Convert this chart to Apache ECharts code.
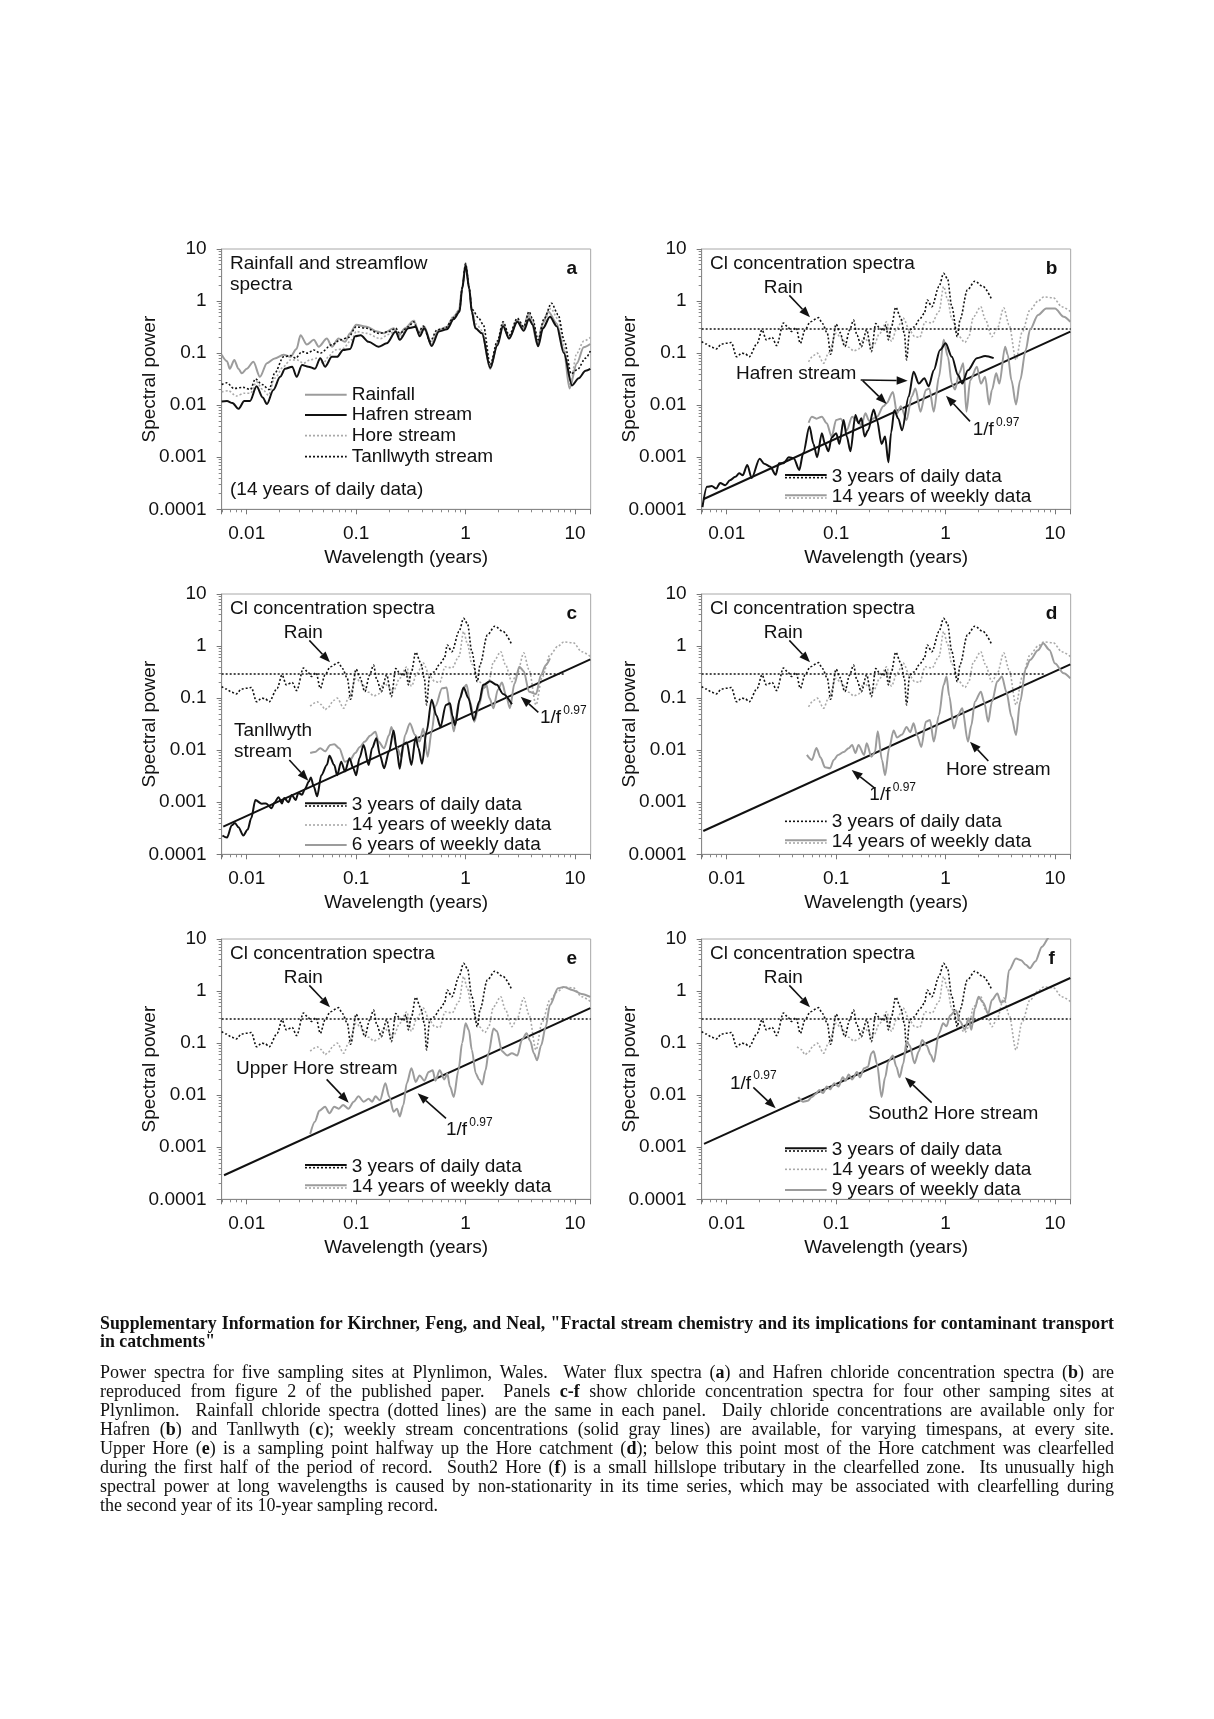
<!DOCTYPE html>
<html><head><meta charset="utf-8">
<script src="https://cdn.jsdelivr.net/npm/echarts@6/dist/echarts.min.js"></script>
<style>
html,body{margin:0;padding:0;background:#fff;}
#chart{position:absolute;left:0;top:0;width:1214px;height:1719px;}
.cap{position:absolute;left:100px;width:1014px;font-family:"Liberation Serif",serif;font-size:18px;color:#111;line-height:19px;height:19px;white-space:nowrap;}
.j{text-align:justify;text-align-last:justify;}
</style></head><body>
<div id="chart"></div>
<div class="cap j" style="top:1314px;font-weight:bold;font-size:17.8px;">Supplementary Information for Kirchner, Feng, and Neal, "Fractal stream chemistry and its implications for contaminant transport</div>
<div class="cap" style="top:1332px;font-weight:bold;font-size:17.8px;">in catchments"</div>
<div class="cap j" style="top:1363px;">Power spectra for five sampling sites at Plynlimon, Wales.&nbsp; Water flux spectra (<b>a</b>) and Hafren chloride concentration spectra (<b>b</b>) are</div>
<div class="cap j" style="top:1382px;">reproduced from figure 2 of the published paper.&nbsp; Panels <b>c-f</b> show chloride concentration spectra for four other samping sites at</div>
<div class="cap j" style="top:1401px;">Plynlimon.&nbsp; Rainfall chloride spectra (dotted lines) are the same in each panel.&nbsp; Daily chloride concentrations are available only for</div>
<div class="cap j" style="top:1420px;">Hafren (<b>b</b>) and Tanllwyth (<b>c</b>); weekly stream concentrations (solid gray lines) are available, for varying timespans, at every site.</div>
<div class="cap j" style="top:1439px;">Upper Hore (<b>e</b>) is a sampling point halfway up the Hore catchment (<b>d</b>); below this point most of the Hore catchment was clearfelled</div>
<div class="cap j" style="top:1458px;">during the first half of the period of record.&nbsp; South2 Hore (<b>f</b>) is a small hillslope tributary in the clearfelled zone.&nbsp; Its unusually high</div>
<div class="cap j" style="top:1477px;">spectral power at long wavelengths is caused by non-stationarity in its time series, which may be associated with clearfelling during</div>
<div class="cap" style="top:1496px;">the second year of its 10-year sampling record.</div>
<script>
// ---------------- axis ticks ----------------
const xTickValues = [0.01, 0.1, 1, 10];
const xTickLabels = ['0.01', '0.1', '1', '10'];
const yTickValues = [0.0001, 0.001, 0.01, 0.1, 1, 10];
const yTickLabels = ['0.0001', '0.001', '0.01', '0.1', '1', '10'];
const xMin = 0.0059, xMax = 13.9, yMin = 0.0001, yMax = 10;

// ---------------- panel a: rainfall and streamflow spectra ----------------
const rainfallA = [[0.0059,0.093],[0.0066,0.07],[0.0070,0.05],[0.0077,0.074],[0.0084,0.05],[0.0090,0.041],[0.010,0.05],[0.0115,0.068],[0.0132,0.035],[0.0153,0.064],[0.018,0.079],[0.0217,0.093],[0.025,0.085],[0.0285,0.12],[0.031,0.22],[0.0354,0.146],[0.041,0.18],[0.0455,0.133],[0.054,0.19],[0.060,0.133],[0.069,0.19],[0.079,0.165],[0.088,0.24],[0.1,0.35],[0.125,0.32],[0.155,0.26],[0.178,0.24],[0.22,0.30],[0.245,0.22],[0.28,0.3],[0.335,0.42],[0.38,0.24],[0.42,0.32],[0.49,0.145],[0.57,0.28],[0.675,0.32],[0.78,0.5],[0.87,0.67],[0.93,1.8],[1.0,5.4],[1.08,1.8],[1.14,0.65],[1.23,0.3],[1.41,0.24],[1.68,0.05],[1.95,0.15],[2.2,0.36],[2.5,0.19],[2.97,0.43],[3.4,0.3],[3.7,0.54],[4.0,0.4],[4.55,0.14],[5.0,0.35],[5.7,0.63],[6.8,0.37],[7.9,0.115],[8.9,0.021],[10.4,0.064],[12,0.13],[13.8,0.15]];
const hafrenA = [[0.0059,0.0118],[0.0066,0.012],[0.0074,0.011],[0.0084,0.0085],[0.0095,0.012],[0.0107,0.012],[0.0123,0.023],[0.014,0.014],[0.0153,0.0105],[0.0175,0.0196],[0.0202,0.035],[0.0224,0.05],[0.026,0.055],[0.0286,0.035],[0.032,0.059],[0.0366,0.055],[0.042,0.05],[0.047,0.08],[0.052,0.055],[0.06,0.085],[0.067,0.085],[0.076,0.115],[0.088,0.12],[0.098,0.21],[0.11,0.22],[0.13,0.165],[0.16,0.133],[0.19,0.154],[0.23,0.26],[0.25,0.18],[0.30,0.30],[0.35,0.32],[0.38,0.21],[0.42,0.30],[0.49,0.137],[0.57,0.26],[0.675,0.286],[0.78,0.45],[0.88,0.62],[0.93,1.7],[1.0,4.9],[1.08,1.7],[1.14,0.62],[1.23,0.3],[1.41,0.24],[1.68,0.052],[1.95,0.14],[2.2,0.33],[2.5,0.19],[2.97,0.4],[3.4,0.27],[3.8,0.45],[4.1,0.35],[4.6,0.135],[5.1,0.3],[5.9,0.5],[6.8,0.33],[7.9,0.1],[9.4,0.024],[10.8,0.033],[12.5,0.046],[13.8,0.05]];
const horeA = [[0.0059,0.018],[0.0068,0.019],[0.0080,0.015],[0.0095,0.017],[0.0108,0.017],[0.0123,0.028],[0.014,0.02],[0.0158,0.0155],[0.018,0.033],[0.0217,0.055],[0.025,0.074],[0.029,0.074],[0.033,0.064],[0.038,0.074],[0.044,0.08],[0.05,0.064],[0.057,0.09],[0.064,0.115],[0.075,0.12],[0.091,0.18],[0.1,0.26],[0.125,0.24],[0.166,0.19],[0.2,0.23],[0.23,0.28],[0.25,0.2],[0.3,0.32],[0.34,0.42],[0.37,0.25],[0.41,0.32],[0.48,0.16],[0.56,0.27],[0.66,0.31],[0.77,0.5],[0.88,0.65],[0.93,1.8],[1.0,5.2],[1.08,1.8],[1.14,0.65],[1.25,0.36],[1.42,0.27],[1.68,0.05],[1.95,0.16],[2.2,0.37],[2.5,0.2],[2.97,0.44],[3.4,0.3],[3.8,0.58],[4.1,0.42],[4.6,0.15],[5.2,0.4],[6.0,0.72],[7.0,0.45],[8.0,0.13],[9.0,0.024],[10.4,0.1],[12,0.17],[13.8,0.2]];
const tanllwythA = [[0.0059,0.025],[0.0066,0.027],[0.0076,0.021],[0.0093,0.022],[0.0108,0.02],[0.012,0.032],[0.0138,0.025],[0.016,0.02],[0.018,0.041],[0.0217,0.085],[0.025,0.09],[0.028,0.08],[0.032,0.107],[0.036,0.1],[0.041,0.115],[0.047,0.1],[0.06,0.145],[0.072,0.18],[0.085,0.2],[0.1,0.32],[0.125,0.3],[0.16,0.24],[0.2,0.26],[0.23,0.3],[0.25,0.24],[0.30,0.32],[0.335,0.4],[0.37,0.25],[0.41,0.33],[0.475,0.17],[0.55,0.28],[0.65,0.3],[0.78,0.48],[0.88,0.65],[0.93,1.8],[1.0,5.2],[1.08,1.8],[1.14,0.7],[1.33,0.46],[1.45,0.35],[1.68,0.06],[1.95,0.17],[2.2,0.4],[2.5,0.22],[2.97,0.47],[3.4,0.32],[3.8,0.63],[4.1,0.45],[4.6,0.18],[5.2,0.45],[6.1,0.91],[7.0,0.55],[8.0,0.17],[9.2,0.04],[10.5,0.048],[12.5,0.08],[13.8,0.11]];

// ---------------- rainfall chloride (same in panels b-f) ----------------
const rainDaily = [[0.0059,0.167],[0.0065,0.15],[0.0073,0.13],[0.008,0.12],[0.009,0.15],[0.01,0.155],[0.011,0.16],[0.0123,0.085],[0.0137,0.1],[0.0148,0.097],[0.016,0.085],[0.019,0.154],[0.021,0.28],[0.023,0.18],[0.026,0.2],[0.0286,0.14],[0.033,0.38],[0.036,0.32],[0.039,0.26],[0.043,0.31],[0.047,0.154],[0.052,0.28],[0.058,0.4],[0.069,0.48],[0.075,0.37],[0.083,0.24],[0.089,0.095],[0.1,0.36],[0.108,0.25],[0.12,0.133],[0.133,0.28],[0.144,0.43],[0.155,0.22],[0.17,0.133],[0.19,0.28],[0.21,0.107],[0.23,0.37],[0.25,0.3],[0.27,0.27],[0.285,0.35],[0.30,0.18],[0.32,0.32],[0.35,0.76],[0.39,0.47],[0.42,0.24],[0.44,0.074],[0.47,0.28],[0.52,0.32],[0.57,0.43],[0.64,0.58],[0.68,1.05],[0.75,0.78],[0.87,1.9],[0.96,3.4],[1.04,2.7],[1.14,0.78],[1.28,0.207],[1.36,0.45],[1.58,1.63],[1.85,2.4],[2.2,1.9],[2.65,1.05]];
const rainWeekly = [[0.038,0.07],[0.044,0.085],[0.048,0.075],[0.052,0.06],[0.056,0.068],[0.062,0.09],[0.067,0.1],[0.077,0.064],[0.085,0.1],[0.1,0.24],[0.11,0.2],[0.13,0.13],[0.145,0.11],[0.16,0.12],[0.18,0.2],[0.2,0.16],[0.22,0.14],[0.25,0.24],[0.29,0.4],[0.32,0.17],[0.36,0.3],[0.41,0.47],[0.47,0.27],[0.52,0.21],[0.58,0.2],[0.65,0.4],[0.75,0.38],[0.87,0.63],[0.96,1.9],[1.04,1.1],[1.14,0.45],[1.33,0.207],[1.5,0.16],[1.62,0.2],[1.8,0.5],[2.1,0.78],[2.3,0.45],[2.65,0.207],[2.97,0.3],[3.4,0.74],[3.8,0.35],[4.4,0.074],[5.0,0.25],[5.9,0.67],[7.0,1.0],[7.9,1.2],[9.7,1.15],[11.5,0.78],[13.8,0.63]];
const rainLevel = 0.29;

// ---------------- panel b: Hafren ----------------
const hafrenDaily = [[0.006,0.00011],[0.0066,0.00027],[0.0073,0.00028],[0.008,0.00025],[0.0087,0.00032],[0.0097,0.00029],[0.0107,0.00036],[0.012,0.00042],[0.013,0.00049],[0.014,0.00045],[0.0154,0.00071],[0.0169,0.0004],[0.02,0.00094],[0.022,0.00075],[0.025,0.00066],[0.028,0.00046],[0.03,0.00077],[0.033,0.00077],[0.037,0.001],[0.041,0.00095],[0.046,0.00057],[0.05,0.0012],[0.057,0.0039],[0.062,0.0018],[0.067,0.001],[0.074,0.0029],[0.079,0.0018],[0.085,0.0013],[0.091,0.0024],[0.1,0.0029],[0.107,0.0018],[0.117,0.0052],[0.125,0.0025],[0.135,0.0013],[0.15,0.0065],[0.16,0.0045],[0.17,0.0056],[0.182,0.0025],[0.196,0.0033],[0.22,0.0083],[0.236,0.0052],[0.26,0.0018],[0.28,0.0025],[0.30,0.0008],[0.318,0.003],[0.34,0.008],[0.37,0.0055],[0.40,0.0033],[0.46,0.0146],[0.51,0.044],[0.57,0.026],[0.64,0.033],[0.70,0.023],[0.78,0.047],[0.89,0.115],[1.0,0.154],[1.14,0.085],[1.3,0.038],[1.42,0.026],[1.6,0.047],[1.93,0.08],[2.3,0.088],[2.75,0.08]];
const hafrenWeekly = [[0.056,0.0046],[0.06,0.006],[0.066,0.0055],[0.074,0.006],[0.082,0.0045],[0.091,0.0025],[0.1,0.0052],[0.11,0.0055],[0.125,0.0033],[0.14,0.006],[0.155,0.005],[0.17,0.0041],[0.185,0.007],[0.2,0.005],[0.236,0.006],[0.27,0.0095],[0.29,0.011],[0.33,0.018],[0.36,0.007],[0.39,0.0095],[0.44,0.0052],[0.49,0.0146],[0.53,0.021],[0.59,0.0075],[0.66,0.0196],[0.71,0.021],[0.78,0.0075],[0.87,0.035],[0.96,0.18],[1.05,0.085],[1.14,0.026],[1.22,0.02],[1.33,0.041],[1.45,0.064],[1.55,0.0075],[1.68,0.03],[1.93,0.055],[2.1,0.026],[2.3,0.035],[2.5,0.0103],[2.65,0.0196],[2.9,0.041],[3.1,0.026],[3.5,0.133],[3.7,0.093],[4.0,0.03],[4.4,0.0103],[4.8,0.03],[5.4,0.115],[5.9,0.28],[7.0,0.54],[8.3,0.72],[10,0.72],[12,0.5],[13.8,0.4]];
const fitB = [[0.0061,0.000156],[13.8,0.258]];

// ---------------- panel c: Tanllwyth ----------------
const tanllwythDaily = [[0.006,0.00023],[0.0066,0.00021],[0.0073,0.00036],[0.0078,0.0004],[0.0084,0.00033],[0.0093,0.00023],[0.0102,0.0003],[0.011,0.0005],[0.012,0.0011],[0.0137,0.00094],[0.015,0.00095],[0.0169,0.00077],[0.018,0.001],[0.0195,0.00125],[0.021,0.00095],[0.022,0.0012],[0.024,0.001],[0.0258,0.00138],[0.028,0.0011],[0.0296,0.0015],[0.032,0.0014],[0.034,0.0018],[0.037,0.0025],[0.0385,0.003],[0.041,0.002],[0.044,0.0013],[0.048,0.0033],[0.054,0.0052],[0.057,0.0078],[0.063,0.0052],[0.067,0.0033],[0.073,0.006],[0.079,0.0039],[0.087,0.007],[0.094,0.0045],[0.1,0.0033],[0.107,0.007],[0.117,0.0126],[0.13,0.0052],[0.14,0.011],[0.153,0.017],[0.165,0.008],[0.18,0.0045],[0.2,0.0095],[0.22,0.024],[0.235,0.01],[0.25,0.0044],[0.27,0.013],[0.29,0.014],[0.32,0.0052],[0.35,0.018],[0.37,0.011],[0.40,0.0055],[0.44,0.023],[0.49,0.093],[0.54,0.047],[0.59,0.028],[0.66,0.074],[0.72,0.08],[0.76,0.045],[0.80,0.03],[0.89,0.1],[0.96,0.16],[1.06,0.1],[1.19,0.038],[1.33,0.085],[1.45,0.18],[1.67,0.21],[1.93,0.18],[2.2,0.12],[2.65,0.076]];
const tanllwythWeekly = [[0.038,0.0088],[0.042,0.0092],[0.047,0.0109],[0.052,0.0095],[0.058,0.0126],[0.063,0.013],[0.07,0.0109],[0.079,0.006],[0.088,0.0065],[0.098,0.0088],[0.108,0.0115],[0.12,0.0146],[0.134,0.019],[0.15,0.0227],[0.16,0.0146],[0.18,0.0109],[0.2,0.0196],[0.21,0.028],[0.236,0.011],[0.26,0.0075],[0.28,0.0196],[0.31,0.033],[0.345,0.0196],[0.38,0.0146],[0.41,0.026],[0.45,0.0075],[0.49,0.023],[0.53,0.07],[0.61,0.154],[0.67,0.16],[0.72,0.064],[0.78,0.023],[0.87,0.085],[0.95,0.154],[1.02,0.18],[1.1,0.085],[1.2,0.035],[1.33,0.074],[1.45,0.154],[1.55,0.18],[1.65,0.1],[1.8,0.064],[1.97,0.145],[2.15,0.2],[2.35,0.11],[2.54,0.064],[2.8,0.19],[3.1,0.40],[3.4,0.33],[3.8,0.133],[4.4,0.12],[4.9,0.28],[5.4,0.43],[5.9,0.58]];
const fitC = [[0.0061,0.00034],[13.8,0.556]];

// ---------------- panel d: Hore ----------------
const horeWeekly = [[0.054,0.0081],[0.06,0.0065],[0.066,0.011],[0.072,0.0072],[0.079,0.0047],[0.088,0.0045],[0.095,0.0065],[0.104,0.0081],[0.117,0.0092],[0.13,0.0109],[0.14,0.0126],[0.15,0.0088],[0.16,0.0126],[0.18,0.0081],[0.19,0.0136],[0.21,0.0075],[0.226,0.0092],[0.24,0.023],[0.262,0.0065],[0.28,0.0033],[0.305,0.011],[0.335,0.024],[0.36,0.0175],[0.4,0.02],[0.44,0.028],[0.475,0.022],[0.51,0.033],[0.55,0.019],[0.60,0.0115],[0.66,0.035],[0.72,0.038],[0.78,0.0146],[0.87,0.047],[0.96,0.18],[1.02,0.26],[1.08,0.11],[1.19,0.026],[1.3,0.047],[1.42,0.064],[1.6,0.0146],[1.72,0.03],[1.85,0.085],[2.1,0.133],[2.25,0.085],[2.45,0.035],[2.65,0.085],[2.97,0.21],[3.27,0.26],[3.6,0.13],[4.0,0.044],[4.4,0.0196],[4.8,0.085],[5.4,0.37],[5.9,0.54],[7.0,0.83],[7.8,1.13],[8.9,0.84],[10,0.46],[12,0.3],[13.8,0.24]];
const fitD = [[0.0061,0.00028],[13.8,0.446]];

// ---------------- panel e: Upper Hore ----------------
const upperHoreWeekly = [[0.038,0.0018],[0.042,0.0031],[0.046,0.005],[0.052,0.006],[0.057,0.0045],[0.063,0.006],[0.069,0.0055],[0.076,0.0065],[0.085,0.0055],[0.095,0.0075],[0.105,0.0095],[0.117,0.0075],[0.13,0.0085],[0.14,0.0075],[0.15,0.0095],[0.165,0.008],[0.185,0.017],[0.2,0.0095],[0.22,0.0048],[0.236,0.0055],[0.25,0.0039],[0.27,0.0065],[0.29,0.017],[0.32,0.033],[0.35,0.018],[0.38,0.024],[0.42,0.019],[0.46,0.028],[0.5,0.03],[0.53,0.019],[0.58,0.03],[0.64,0.02],[0.68,0.026],[0.72,0.0146],[0.78,0.0092],[0.86,0.03],[0.93,0.1],[1.0,0.24],[1.07,0.18],[1.14,0.074],[1.24,0.026],[1.33,0.02],[1.42,0.016],[1.52,0.03],[1.62,0.064],[1.8,0.19],[1.93,0.17],[2.15,0.07],[2.4,0.058],[2.65,0.064],[2.97,0.058],[3.27,0.115],[3.6,0.154],[3.9,0.11],[4.2,0.064],[4.5,0.047],[4.9,0.09],[5.4,0.207],[5.9,0.54],[7.0,1.13],[7.9,1.2],[9.4,1.05],[11.5,0.88],[13.8,0.77]];
const fitE = [[0.0062,0.00029],[13.8,0.47]];

// ---------------- panel f: South2 Hore ----------------
const south2Weekly = [[0.045,0.0092],[0.05,0.0075],[0.055,0.0078],[0.06,0.0092],[0.065,0.0105],[0.07,0.0126],[0.076,0.011],[0.082,0.0146],[0.088,0.013],[0.096,0.017],[0.105,0.0146],[0.115,0.022],[0.122,0.019],[0.13,0.025],[0.14,0.02],[0.155,0.028],[0.165,0.022],[0.18,0.033],[0.195,0.035],[0.21,0.064],[0.22,0.07],[0.236,0.04],[0.26,0.0092],[0.28,0.022],[0.30,0.044],[0.33,0.058],[0.355,0.035],[0.38,0.022],[0.41,0.04],[0.44,0.107],[0.47,0.09],[0.52,0.041],[0.57,0.07],[0.61,0.115],[0.67,0.09],[0.73,0.06],[0.78,0.044],[0.87,0.154],[0.95,0.24],[1.02,0.21],[1.1,0.34],[1.24,0.43],[1.36,0.26],[1.5,0.18],[1.62,0.3],[1.72,0.18],[1.85,0.46],[2.0,0.78],[2.2,0.6],[2.45,0.37],[2.65,0.67],[2.97,0.9],[3.2,0.6],[3.5,0.65],[3.8,2.5],[4.4,4.2],[4.9,3.9],[5.4,3.2],[5.9,2.75],[6.6,3.7],[7.6,7.1],[8.9,11],[9.5,14]];
const fitF = [[0.0062,0.00116],[13.8,1.78]];

// ---------------- styles & layout ----------------
const FONT = '19px "Liberation Sans", Arial, sans-serif';
const BOLD = 'bold 19px "Liberation Sans", Arial, sans-serif';
const SUP = '12px "Liberation Sans", Arial, sans-serif';
const BLACK = '#111', GRAY = '#9c9c9c', GRAYDOT = '#a9a9a9';
const DOT = [2, 2];
const ST = {
  bs: {color: BLACK, width: 2, type: 'solid'},
  bd: {color: BLACK, width: 1.6, type: DOT},
  gs: {color: GRAY, width: 2, type: 'solid'},
  gd: {color: GRAYDOT, width: 1.6, type: DOT}
};

// panel reference origins (grid sits at origin + (91.7, 19))
const panels = [
  {key: 'a', ox: 130, oy: 230}, {key: 'b', ox: 610, oy: 230},
  {key: 'c', ox: 130, oy: 575}, {key: 'd', ox: 610, oy: 575},
  {key: 'e', ox: 130, oy: 920}, {key: 'f', ox: 610, oy: 920}
];
function P(p, X, Y) { return [p.ox + X / 3, p.oy + Y / 3]; }

function fmt(values, labels) {
  return function (v) {
    for (let i = 0; i < values.length; i++) {
      if (Math.abs(Math.log10(v / values[i])) < 0.01) return labels[i];
    }
    return '';
  };
}

const grids = [], xAxes = [], yAxes = [], series = [], graphics = [];

function addLine(pi, data, st, z) {
  series.push({
    type: 'line', xAxisIndex: pi, yAxisIndex: pi, data: data,
    showSymbol: false, symbol: 'none', smooth: 0.3, smoothMonotone: 'x',
    lineStyle: {color: st.color, width: st.width, type: st.type},
    z: z || 2, silent: true, animation: false, clip: true
  });
}
function addStraight(pi, data, st) {
  series.push({
    type: 'line', xAxisIndex: pi, yAxisIndex: pi, data: data,
    showSymbol: false, symbol: 'none', smooth: false,
    lineStyle: {color: st.color, width: st.width, type: st.type},
    z: 3, silent: true, animation: false, clip: true
  });
}
function text(p, X, Y, s, font, align) {
  const q = P(p, X, Y);
  graphics.push({type: 'text', x: q[0], y: q[1], z: 100, silent: true,
    style: {text: s, font: font || FONT, fill: BLACK,
      textAlign: align || 'left', align: align || 'left',
      textVerticalAlign: 'middle', verticalAlign: 'middle'}});
}
function seg(p, X1, Y1, X2, Y2, st) {
  const a = P(p, X1, Y1), b = P(p, X2, Y2);
  graphics.push({type: 'line', z: 100, silent: true,
    shape: {x1: a[0], y1: a[1], x2: b[0], y2: b[1]},
    style: {stroke: st.color, lineWidth: st.width, lineDash: st.type === 'solid' ? null : st.type}});
}
function arrow(p, X1, Y1, X2, Y2) {
  const a = P(p, X1, Y1), b = P(p, X2, Y2);
  const dx = b[0] - a[0], dy = b[1] - a[1], L = Math.hypot(dx, dy);
  const ux = dx / L, uy = dy / L, hl = 11, hw = 4.2;
  const bx = b[0] - ux * hl, by = b[1] - uy * hl;
  graphics.push({type: 'line', z: 100, silent: true,
    shape: {x1: a[0], y1: a[1], x2: bx, y2: by},
    style: {stroke: BLACK, lineWidth: 1.6}});
  graphics.push({type: 'polygon', z: 100, silent: true,
    shape: {points: [[b[0], b[1]], [bx - uy * hw, by + ux * hw], [bx + uy * hw, by - ux * hw]]},
    style: {fill: BLACK}});
}
function legendRow(p, Y, styles, label) {
  const n = styles.length;
  styles.forEach(function (st, i) {
    const dy = n === 1 ? 0 : (i === 0 ? -4 : 4);
    seg(p, 525, Y + dy, 650, Y + dy, st);
  });
  text(p, 665, Y, label);
}
function fOneOverF(p, X, Y) {
  text(p, X, Y, '1/f');
  text(p, X + 70, Y - 22, '0.97', SUP);
}

panels.forEach(function (p, i) {
  const left = p.ox + 275 / 3, top = p.oy + 57 / 3;
  grids.push({left: left, top: top, width: 369, height: 260.3, containLabel: false,
    show: true, borderColor: '#a8a8a8', borderWidth: 1, backgroundColor: 'transparent'});
  xAxes.push({gridIndex: i, type: 'log', logBase: 10, min: xMin, max: xMax,
    axisLine: {show: true, onZero: false, lineStyle: {color: '#888', width: 1}},
    axisTick: {show: true, inside: false, length: 5, lineStyle: {color: '#777'}},
    minorTick: {show: true, splitNumber: 9, length: 3, lineStyle: {color: '#888'}},
    splitLine: {show: false}, minorSplitLine: {show: false},
    axisLabel: {margin: 15, fontSize: 19, fontFamily: '"Liberation Sans", Arial', color: BLACK,
      formatter: fmt(xTickValues, xTickLabels)},
    name: 'Wavelength (years)', nameLocation: 'middle', nameGap: 39, nameMoveOverlap: false,
    nameTextStyle: {fontSize: 19, fontFamily: '"Liberation Sans", Arial', color: BLACK}});
  yAxes.push({gridIndex: i, type: 'log', logBase: 10, min: yMin, max: yMax,
    axisLine: {show: true, onZero: false, lineStyle: {color: '#888', width: 1}},
    axisTick: {show: true, inside: false, length: 5, lineStyle: {color: '#777'}},
    minorTick: {show: true, splitNumber: 9, length: 3, lineStyle: {color: '#888'}},
    splitLine: {show: false}, minorSplitLine: {show: false},
    axisLabel: {margin: 15, fontSize: 19, fontFamily: '"Liberation Sans", Arial', color: BLACK,
      formatter: fmt(yTickValues, yTickLabels)},
    name: 'Spectral power', nameLocation: 'middle', nameGap: 62, nameMoveOverlap: false,
    nameTextStyle: {fontSize: 19, fontFamily: '"Liberation Sans", Arial', color: BLACK}});
  text(p, 1325, 115, p.key, BOLD, 'center');
});

// ----- panel a -----
(function () {
  const p = panels[0];
  addLine(0, rainfallA, ST.gs, 2);
  addLine(0, horeA, ST.gd, 3);
  addLine(0, tanllwythA, ST.bd, 4);
  addLine(0, hafrenA, ST.bs, 5);
  text(p, 300, 100, 'Rainfall and streamflow');
  text(p, 300, 165, 'spectra');
  legendRow(p, 494, [ST.gs], 'Rainfall');
  legendRow(p, 555, [ST.bs], 'Hafren stream');
  legendRow(p, 617, [ST.gd], 'Hore stream');
  legendRow(p, 680, [ST.bd], 'Tanllwyth stream');
  text(p, 300, 778, '(14 years of daily data)');
})();

function rainSeries(pi, weeklyFrom, levelTo) {
  addLine(pi, rainWeekly.filter(function (d) { return d[0] >= weeklyFrom; }), ST.gd, 2);
  addStraight(pi, [[xMin, rainLevel], [levelTo, rainLevel]], ST.bd);
  addLine(pi, rainDaily, ST.bd, 3);
}
function commonLabels(p) {
  text(p, 300, 100, 'Cl concentration spectra');
  text(p, 520, 172, 'Rain', FONT, 'center');
  arrow(p, 538, 196, 600, 262);
}

// ----- panel b -----
(function () {
  const p = panels[1];
  rainSeries(1, 0.055, xMax);
  addLine(1, hafrenWeekly, ST.gs, 4);
  addLine(1, hafrenDaily, ST.bs, 5);
  addStraight(1, fitB, ST.bs);
  commonLabels(p);
  text(p, 378, 432, 'Hafren stream');
  arrow(p, 752, 450, 893, 452);
  arrow(p, 758, 452, 830, 522);
  fOneOverF(p, 1088, 600);
  arrow(p, 1080, 574, 1008, 497);
  legendRow(p, 739, [ST.bs, ST.bd], '3 years of daily data');
  legendRow(p, 800, [ST.gs, ST.gd], '14 years of weekly data');
})();

// ----- panel c -----
(function () {
  const p = panels[2];
  rainSeries(2, 0.03, 7.9);
  addLine(2, tanllwythWeekly, ST.gs, 4);
  addLine(2, tanllwythDaily, ST.bs, 5);
  addStraight(2, fitC, ST.bs);
  commonLabels(p);
  text(p, 312, 468, 'Tanllwyth');
  text(p, 312, 530, 'stream');
  arrow(p, 478, 555, 535, 617);
  fOneOverF(p, 1230, 428);
  arrow(p, 1225, 412, 1172, 365);
  legendRow(p, 689, [ST.bs, ST.bd], '3 years of daily data');
  legendRow(p, 750, [ST.gd], '14 years of weekly data');
  legendRow(p, 810, [ST.gs], '6 years of weekly data');
})();

// ----- panel d -----
(function () {
  const p = panels[3];
  rainSeries(3, 0.055, 7.9);
  addLine(3, horeWeekly, ST.gs, 4);
  addStraight(3, fitD, ST.bs);
  commonLabels(p);
  text(p, 1008, 585, 'Hore stream');
  arrow(p, 1135, 558, 1080, 500);
  fOneOverF(p, 778, 660);
  arrow(p, 795, 640, 725, 585);
  legendRow(p, 739, [ST.bd], '3 years of daily data');
  legendRow(p, 800, [ST.gs, ST.gd], '14 years of weekly data');
})();

// ----- panel e -----
(function () {
  const p = panels[4];
  rainSeries(4, 0.03, xMax);
  addLine(4, upperHoreWeekly, ST.gs, 4);
  addStraight(4, fitE, ST.bs);
  commonLabels(p);
  text(p, 318, 445, 'Upper Hore stream');
  arrow(p, 590, 478, 656, 548);
  fOneOverF(p, 948, 630);
  arrow(p, 948, 595, 863, 520);
  legendRow(p, 739, [ST.bs, ST.bd], '3 years of daily data');
  legendRow(p, 800, [ST.gs, ST.gd], '14 years of weekly data');
})();

// ----- panel f -----
(function () {
  const p = panels[5];
  rainSeries(5, 0.044, xMax);
  addLine(5, south2Weekly, ST.gs, 4);
  addStraight(5, fitF, ST.bs);
  commonLabels(p);
  text(p, 775, 580, 'South2 Hore stream');
  arrow(p, 965, 548, 885, 472);
  fOneOverF(p, 360, 490);
  arrow(p, 430, 502, 497, 565);
  legendRow(p, 689, [ST.bs, ST.bd], '3 years of daily data');
  legendRow(p, 748, [ST.gd], '14 years of weekly data');
  legendRow(p, 810, [ST.gs], '9 years of weekly data');
})();

const chart = echarts.init(document.getElementById('chart'), null, {renderer: 'canvas', width: 1214, height: 1719});
chart.setOption({
  animation: false,
  backgroundColor: '#fff',
  grid: grids, xAxis: xAxes, yAxis: yAxes, series: series,
  graphic: {elements: graphics}
});
</script>
</body></html>
